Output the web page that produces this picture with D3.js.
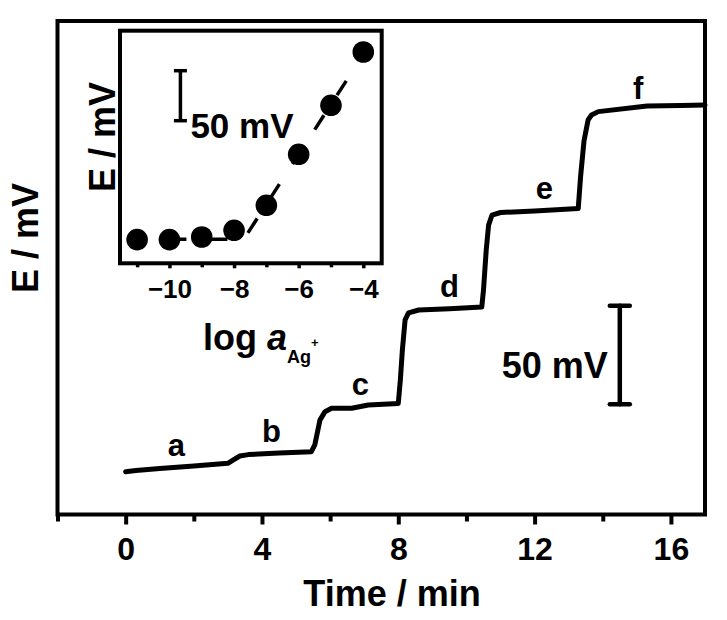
<!DOCTYPE html>
<html>
<head>
<meta charset="utf-8">
<script src="https://cdn.jsdelivr.net/npm/d3@7"></script>
<style>
	body { margin: 0; background: #fff; }
	svg text { font-family: "Liberation Sans", Arial, sans-serif; font-weight: bold; fill: #000; }
</style>
</head>
<body>
<div id="graphic"></div>
<script>
// main trace, time in min vs potential in mV (relative)
const timeMin = [0, 0.3, 1, 2, 3.0, 3.15, 3.35, 3.6, 4.5, 5.45, 5.55, 5.6, 5.7, 5.85, 6.04, 6.63, 7.12, 8.0, 8.06, 8.12,
	8.2, 8.3, 8.6, 9.5, 10.45, 10.5, 10.58, 10.65, 10.75, 11.0, 12.0, 13.28, 13.35, 13.45, 13.57, 13.67, 13.87, 15.3, 16.3, 17.0];
const potential = [0, 0.6, 1.6, 2.9, 4.3, 5.9, 8.0, 8.7, 9.5, 10.2, 13.6, 17.8, 26.2, 30.5, 32.2, 32.2, 33.9, 34.7, 46.5, 61.8,
	77.1, 80.6, 82.1, 82.8, 83.6, 92.2, 112.5, 125.2, 130.3, 131.6, 132.3, 133.6, 150, 168, 178.6, 181.1, 182.8, 185.7, 185.9, 186.1];

// step letters and where they sit (time, mV)
const stepLabels = ['a', 'b', 'c', 'd', 'e', 'f'];
const stepLabelTime = [1.49, 4.28, 6.89, 9.5, 12.29, 15.04];
const stepLabelE = [8.0, 15.1, 38.9, 88.7, 138.3, 189.1];

const xTicks = [0, 4, 8, 12, 16];
const xMinorTicks = [-2, 2, 6, 10, 14];

// inset calibration
const logA = [-11, -10, -9, -8, -7, -6, -5, -4];
const insetE = [0, 0, 2.6, 9.3, 34.3, 85.3, 134.3, 187.6];
const fitLogA = [-10, -7.7, -3.6];
const fitE = [0.3, 0.3, 205];
const insetTicks = [-10, -8, -6, -4];
const insetMinorTicks = [-11, -9, -7, -5];

const width = 727, height = 620;
const margin = { left: 57.5, right: 22, top: 21, bottom: 105.5 };

let svg = d3.select('#graphic')
	.append('svg')
	.attr('width', width)
	.attr('height', height);

const x = d3.scaleLinear().domain([-2, 17]).range([margin.left, width - margin.right]);
const y = d3.scaleLinear().domain([-21.7, 228.8]).range([height - margin.bottom, margin.top]);

//main frame
svg.append('rect')
	.attr('x', x.range()[0])
	.attr('y', y.range()[1])
	.attr('width', x.range()[1] - x.range()[0])
	.attr('height', y.range()[0] - y.range()[1])
	.attr('fill', 'none')
	.attr('stroke', '#000')
	.attr('stroke-width', 4);

// x axis, major and minor ticks
let xAxisG = svg.append('g')
	.attr('transform', 'translate(0,' + y.range()[0] + ')')
	.call(d3.axisBottom(x).tickValues(xTicks).tickSize(10).tickPadding(12.5).tickFormat(d3.format('d')));
xAxisG.select('.domain').remove();
xAxisG.selectAll('line').attr('stroke-width', 4);
xAxisG.selectAll('text').attr('font-size', 32).attr('font-family', null);

let xMinorG = svg.append('g')
	.attr('transform', 'translate(0,' + y.range()[0] + ')')
	.call(d3.axisBottom(x).tickValues(xMinorTicks).tickSize(7).tickFormat(''));
xMinorG.select('.domain').remove();
xMinorG.selectAll('line').attr('stroke-width', 4);

// the trace
const line = d3.line()
	.x((d) => x(d[0]))
	.y((d) => y(d[1]));

svg.append('path')
	.datum(d3.zip(timeMin, potential))
	.attr('d', line)
	.attr('fill', 'none')
	.attr('stroke', '#000')
	.attr('stroke-width', 5)
	.attr('stroke-linejoin', 'round')
	.attr('stroke-linecap', 'round');

svg.append('g')
	.selectAll('text')
	.data(d3.zip(stepLabels, stepLabelTime, stepLabelE))
	.join('text')
	.attr('x', (d) => x(d[1]))
	.attr('y', (d) => y(d[2]))
	.attr('text-anchor', 'middle')
	.attr('font-size', 31)
	.text((d) => d[0]);

// 50 mV scale bar
const barT = 14.5, barE0 = 34.2, barE1 = 84.2;
let bar = svg.append('g')
	.attr('stroke', '#000')
	.attr('stroke-width', 4.5)
	.attr('stroke-linecap', 'round');
bar.append('line').attr('x1', x(barT)).attr('x2', x(barT)).attr('y1', y(barE0)).attr('y2', y(barE1));
bar.append('line').attr('x1', x(barT) - 10).attr('x2', x(barT) + 10).attr('y1', y(barE0)).attr('y2', y(barE0));
bar.append('line').attr('x1', x(barT) - 10).attr('x2', x(barT) + 10).attr('y1', y(barE1)).attr('y2', y(barE1));

svg.append('text')
	.attr('x', x(barT) - 12)
	.attr('y', 378)
	.attr('text-anchor', 'end')
	.attr('font-size', 36)
	.text('50 mV');

// axis titles
svg.append('text')
	.attr('x', 392)
	.attr('y', 606)
	.attr('text-anchor', 'middle')
	.attr('font-size', 36)
	.text('Time / min');

svg.append('text')
	.attr('transform', 'translate(38,238) rotate(-90)')
	.attr('text-anchor', 'middle')
	.attr('font-size', 36)
	.text('E / mV');

// ---- inset ----
const ix = d3.scaleLinear().domain([-11.53, -3.43]).range([120, 381.7]);
const iy = d3.scaleLinear().domain([-23.7, 208.9]).range([263.3, 30.7]);

let inset = svg.append('g');

inset.append('rect')
	.attr('x', ix.range()[0])
	.attr('y', iy.range()[1])
	.attr('width', ix.range()[1] - ix.range()[0])
	.attr('height', iy.range()[0] - iy.range()[1])
	.attr('fill', '#fff')
	.attr('stroke', '#000')
	.attr('stroke-width', 4);

let ixAxisG = inset.append('g')
	.attr('transform', 'translate(0,' + iy.range()[0] + ')')
	.call(d3.axisBottom(ix).tickValues(insetTicks).tickSize(5).tickPadding(11.7).tickFormat(d3.format('d')));
ixAxisG.select('.domain').remove();
ixAxisG.selectAll('line').attr('stroke-width', 3.5);
ixAxisG.selectAll('text').attr('font-size', 26).attr('font-family', null);

let ixMinorG = inset.append('g')
	.attr('transform', 'translate(0,' + iy.range()[0] + ')')
	.call(d3.axisBottom(ix).tickValues(insetMinorTicks).tickSize(4).tickFormat(''));
ixMinorG.select('.domain').remove();
ixMinorG.selectAll('line').attr('stroke-width', 3.5);

// dashed fit lines behind the dots
const fitLine = d3.line()
	.x((d) => ix(d[0]))
	.y((d) => iy(d[1]));

inset.append('path')
	.datum(d3.zip(fitLogA, fitE))
	.attr('d', fitLine)
	.attr('fill', 'none')
	.attr('stroke', '#000')
	.attr('stroke-width', 3.5)
	.attr('stroke-dasharray', '17,24');

inset.append('g')
	.selectAll('circle')
	.data(d3.zip(logA, insetE))
	.join('circle')
	.attr('cx', (d) => ix(d[0]))
	.attr('cy', (d) => iy(d[1]))
	.attr('r', 10.8)
	.attr('fill', '#000');

// inset scale bar
const ibarX = -9.66, ibarE0 = 118.9, ibarE1 = 168.9;
let ibar = inset.append('g')
	.attr('stroke', '#000')
	.attr('stroke-width', 3.5);
ibar.append('line').attr('x1', ix(ibarX)).attr('x2', ix(ibarX)).attr('y1', iy(ibarE0)).attr('y2', iy(ibarE1));
ibar.append('line').attr('x1', ix(ibarX) - 6.5).attr('x2', ix(ibarX) + 6.5).attr('y1', iy(ibarE0)).attr('y2', iy(ibarE0));
ibar.append('line').attr('x1', ix(ibarX) - 6.5).attr('x2', ix(ibarX) + 6.5).attr('y1', iy(ibarE1)).attr('y2', iy(ibarE1));

inset.append('text')
	.attr('x', ix(ibarX) + 10)
	.attr('y', 138)
	.attr('font-size', 35)
	.text('50 mV');

// inset axis titles
inset.append('text')
	.attr('transform', 'translate(115,137) rotate(-90)')
	.attr('text-anchor', 'middle')
	.attr('font-size', 36)
	.text('E / mV');

let logLabel = inset.append('text')
	.attr('x', 203)
	.attr('y', 350)
	.attr('font-size', 36);
logLabel.append('tspan').text('log ');
logLabel.append('tspan').attr('font-style', 'italic').text('a');
logLabel.append('tspan').attr('font-size', 18).attr('dy', 13).text('Ag');
logLabel.append('tspan').attr('font-size', 13).attr('dy', -16).text('+');
</script>
</body>
</html>
